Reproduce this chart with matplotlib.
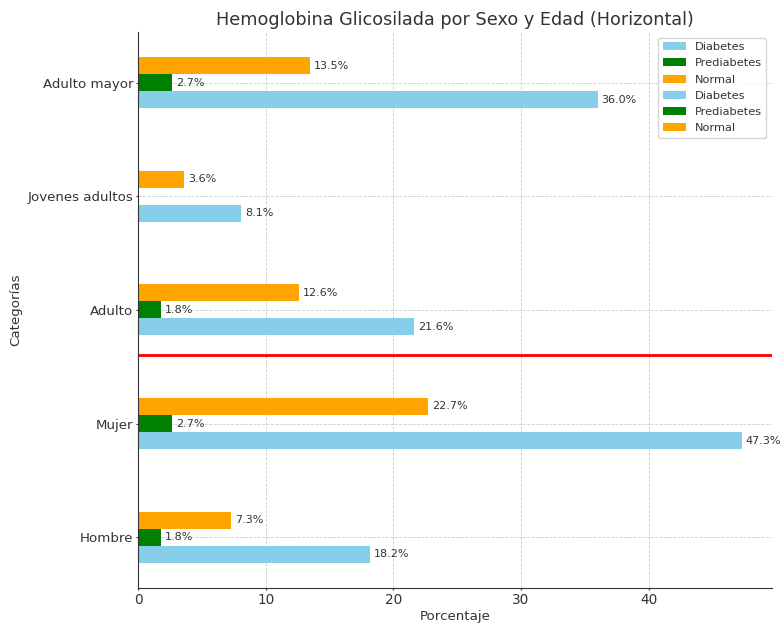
import matplotlib
matplotlib.use("Agg")
import matplotlib.pyplot as plt
import numpy as np

categories = ["Hombre", "Mujer", "Adulto", "Jovenes adultos", "Adulto mayor"]
diabetes = [18.2, 47.3, 21.6, 8.1, 36.0]
prediabetes = [1.8, 2.7, 1.8, 0.0, 2.7]
normal = [7.3, 22.7, 12.6, 3.6, 13.5]
series_labels = ["Diabetes", "Prediabetes", "Normal"]
colors = ["skyblue", "green", "orange"]
sep_line = 1.6

plt.rcParams['text.color'] = '#333333'
plt.rcParams['axes.labelcolor'] = '#333333'
fig = plt.figure(figsize=(7.81, 6.27), dpi=100)
ax = fig.add_axes([0.1767, 0.0622, 0.812, 0.887])

y = np.arange(len(categories))
h = 0.15
groups = [(slice(0, 2)), (slice(2, 5))]
for g in groups:
    yy = y[g]
    for i, (vals, lab, c) in enumerate(zip([diabetes, prediabetes, normal], series_labels, colors)):
        v = np.array(vals)[g]
        bars = ax.barh(yy + (i - 1) * h, v, height=h, color=c, label=lab)
        for b, val in zip(bars, v):
            if val > 0:
                ax.text(b.get_width() + 0.3, b.get_y() + b.get_height() / 2,
                        f"{val:.1f}%", va='center', ha='left', fontsize=8, color='#333333')

ax.axhline(sep_line, color='red', linewidth=2)
ax.set_yticks(y)
ax.set_yticklabels(categories, fontsize=9.6)
ax.tick_params(axis='x', labelsize=9.8)
ax.tick_params(colors='#333333', length=1.5, pad=2)
ax.set_xlabel("Porcentaje", fontsize=9.6, labelpad=2)
ax.set_ylabel("Categorías", fontsize=9.6, labelpad=4)
ax.set_title("Hemoglobina Glicosilada por Sexo y Edad (Horizontal)", fontsize=12.7, color='#333333', pad=5)
ax.grid(True, linestyle='--', color='#cccccc', linewidth=0.6)
ax.set_axisbelow(True)
ax.spines['top'].set_visible(False)
ax.spines['right'].set_visible(False)
ax.spines['left'].set_color('#333333')
ax.spines['bottom'].set_color('#333333')
ax.legend(loc='upper right', fontsize=8.2, labelspacing=0.55)
fig.savefig("out.png", dpi=100)
